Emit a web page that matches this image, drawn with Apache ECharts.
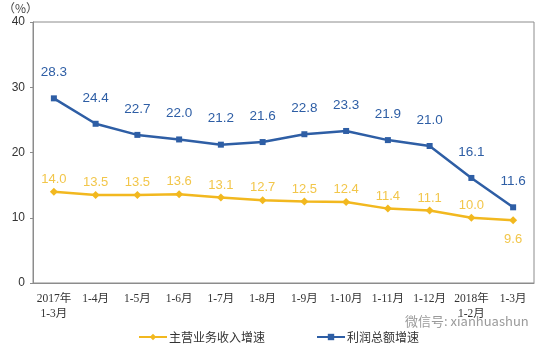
<!DOCTYPE html>
<html>
<head>
<meta charset="utf-8">
<script src="https://cdn.jsdelivr.net/npm/echarts@6/dist/echarts.min.js"></script>
<style>
  html, body { margin: 0; padding: 0; background: #fff; }
  #chart { width: 547px; height: 351px; }
</style>
</head>
<body>
<div id="chart"></div>
<script>
const categories = ['2017年\n1-3月', '1-4月', '1-5月', '1-6月', '1-7月', '1-8月', '1-9月', '1-10月', '1-11月', '1-12月', '2018年\n1-2月', '1-3月'];
const revenueGrowth = [14.0, 13.5, 13.5, 13.6, 13.1, 12.7, 12.5, 12.4, 11.4, 11.1, 10.0, 9.6];
const profitGrowth = [28.3, 24.4, 22.7, 22.0, 21.2, 21.6, 22.8, 23.3, 21.9, 21.0, 16.1, 11.6];

const chart = echarts.init(document.getElementById('chart'));
const labelFont = 'Liberation Serif, "Noto Sans CJK SC", serif';

chart.setOption({
  animation: false,
  grid: {
    left: 33, right: 13, top: 22, bottom: 68,
    show: true, borderColor: '#8c8c8c', borderWidth: 1, backgroundColor: 'transparent'
  },
  legend: {
    bottom: 3, left: 133, itemGap: 51,
    itemWidth: 28, itemHeight: 8,
    textStyle: { fontSize: 12, color: '#333', fontFamily: '"Noto Sans CJK SC", sans-serif', padding: [0, 0, 0, -3] },
    data: ['主营业务收入增速', '利润总额增速']
  },
  graphic: [
    { type: 'text', left: 3, top: 2, style: { text: '（%）', fontSize: 12, fill: '#444', fontFamily: '"Noto Sans CJK SC", sans-serif' } },
    { type: 'text', left: 405, top: 315, style: { text: '微信号: xianhuashun', fontSize: 13, fill: '#9a9a9a', fontFamily: '"Noto Sans CJK SC", sans-serif' } }
  ],
  xAxis: {
    type: 'category',
    data: categories,
    boundaryGap: true,
    axisLine: { lineStyle: { color: '#8c8c8c' } },
    axisTick: { inside: true, length: 4, lineStyle: { color: '#8c8c8c' } },
    axisLabel: { color: '#333', fontSize: 11.5, fontFamily: labelFont, margin: 8, interval: 0, lineHeight: 15 }
  },
  yAxis: {
    type: 'value', min: 0, max: 40, interval: 10,
    splitLine: { show: false },
    axisLine: { show: true, lineStyle: { color: '#8c8c8c' } },
    axisTick: { show: true, length: 3, lineStyle: { color: '#8c8c8c' } },
    axisLabel: { color: '#333', fontSize: 12, fontFamily: 'Arial, Liberation Sans, sans-serif', margin: 8 }
  },
  series: [
    {
      name: '主营业务收入增速',
      type: 'line',
      data: revenueGrowth,
      symbol: 'diamond', symbolSize: 8,
      itemStyle: { color: '#f2b81f' },
      lineStyle: { width: 2.5, color: '#f2b81f' },
      label: {
        show: true, position: 'top', distance: 2,
        color: '#f2c64a', fontSize: 13, fontFamily: 'Arial, Liberation Sans, sans-serif',
        formatter: p => p.value.toFixed(1)
      },
      labelLayout: p => p.dataIndex === revenueGrowth.length - 1 ? { dy: 32 } : {}
    },
    {
      name: '利润总额增速',
      type: 'line',
      data: profitGrowth,
      symbol: 'rect', symbolSize: 6,
      itemStyle: { color: '#2e5ea5' },
      lineStyle: { width: 2.5, color: '#2e5ea5' },
      label: {
        show: true, position: 'top', distance: 16,
        color: '#2e5ea5', fontSize: 13.5, fontFamily: 'Arial, Liberation Sans, sans-serif',
        formatter: p => p.value.toFixed(1)
      }
    }
  ]
});
</script>
</body>
</html>
